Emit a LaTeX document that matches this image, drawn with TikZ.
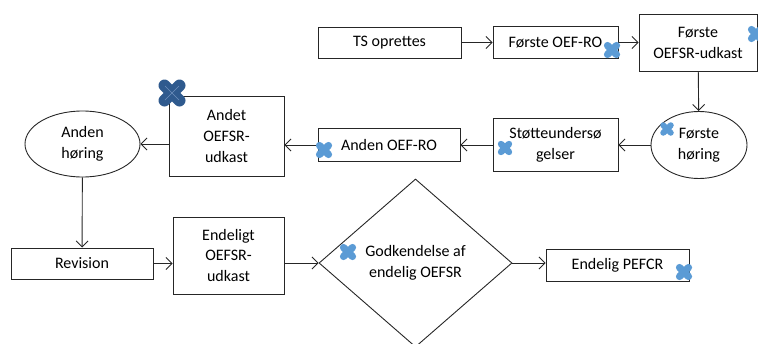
\documentclass[tikz,border=0pt]{standalone}
\usepackage{fontspec}
\setmainfont{Carlito}
\usetikzlibrary{shapes.geometric, arrows.meta, positioning}
\definecolor{streg}{HTML}{262626}
\definecolor{krydsblaa}{HTML}{5B9BD5}
\definecolor{krydsmoerk}{HTML}{2F5A8E}
\definecolor{krydslys}{HTML}{6F90BD}

\tikzset{
    boks/.style={draw=streg, line width=0.9pt, rectangle, align=center,
        inner sep=0pt, font=\fontsize{16}{21}\selectfont},
    rund/.style={boks, ellipse},
    valg/.style={boks, diamond, aspect=1.15},
    pil/.style={draw=streg, line width=0.9pt,
        -{Straight Barb[length=6pt,width=12pt]}},
    pics/kryds/.style={code={
        \draw[line width=0.4pt*#1, line cap=round]
            ({-0.25*#1},{-0.25*#1}) -- ({0.25*#1},{0.25*#1})
            ({-0.25*#1},{0.25*#1}) -- ({0.25*#1},{-0.25*#1});
    }},
}

\begin{document}
\begin{tikzpicture}[x=1pt, y=-1pt]
\useasboundingbox (0,0) rectangle (758,343);

% top row
\node[boks, minimum width=143pt, minimum height=31pt] (ts) at (389.5,42.5) {TS oprettes};
\node[boks, minimum width=125pt, minimum height=32pt] (oefro1) at (555.5,42.5) {Første OEF-RO};
\node[boks, minimum width=118pt, minimum height=57pt] (udkast1) at (698,42.5) {Første\\OEFSR-udkast};

% middle row
\node[rund, minimum width=96pt, minimum height=67pt] (hoering1) at (699,145) {Første\\høring};
\node[boks, minimum width=125pt, minimum height=53pt] (stoette) at (555.5,145) {Støtteundersø\\gelser};
\node[boks, minimum width=142pt, minimum height=33pt] (oefro2) at (389,145) {Anden OEF-RO};
\node[boks, minimum width=115pt, minimum height=80pt] (udkast2) at (226.5,136) {Andet\\OEFSR-\\udkast};
\node[rund, minimum width=115pt, minimum height=66pt] (hoering2) at (82.5,144) {Anden\\høring};

% bottom row
\node[boks, minimum width=142pt, minimum height=31pt] (revision) at (82,263.5) {Revision};
\node[boks, minimum width=111pt, minimum height=77pt] (udkast3) at (228.5,255.5) {Endeligt\\OEFSR-\\udkast};
\node[valg, minimum width=193pt, minimum height=168pt] (godk) at (415.5,263) {Godkendelse af\\endelig OEFSR};
\node[boks, minimum width=143pt, minimum height=32pt] (pefcr) at (617.5,265) {Endelig PEFCR};

\draw[pil] (ts) -- (oefro1);
\draw[pil] (oefro1) -- (udkast1);
\draw[pil] (udkast1) -- (hoering1);
\draw[pil] (hoering1) -- (stoette);
\draw[pil] (stoette) -- (oefro2);
\draw[pil] (oefro2) -- (oefro2 -| udkast2.east);
\draw[pil] (udkast2.west |- hoering2) -- (hoering2);
\draw[pil] (hoering2) -- (revision);
\draw[pil] (revision) -- (revision -| udkast3.west);
\draw[pil] (udkast3.east |- godk) -- (godk);
\draw[pil] (godk.east) -- (godk.east -| pefcr.west);

% markers
\pic[krydsblaa] at (612,50) {kryds=18};
\pic[krydsblaa] at (756,34) {kryds=18};
\pic[krydsblaa] at (667,129) {kryds=15};
\pic[krydsblaa] at (505,148) {kryds=16};
\pic[krydsblaa] at (324,150) {kryds=18};
\pic[krydsblaa] at (348,252) {kryds=18};
\pic[krydsblaa] at (684,272) {kryds=18};
\pic[krydsmoerk] at (172,93) {kryds=30};
\draw[krydslys, line width=0.5pt] (165,86) -- (179,100) (165,100) -- (179,86);
\end{tikzpicture}
\end{document}
